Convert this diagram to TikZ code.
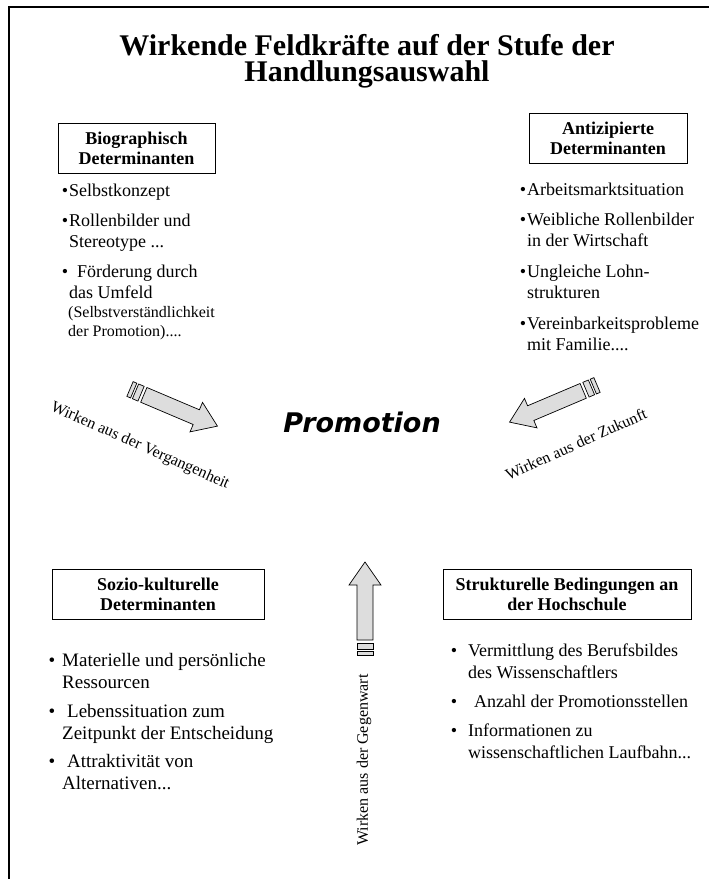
\documentclass[tikz,border=0pt]{standalone}
\usepackage{fontspec}
\setmainfont{Liberation Serif}
\newfontfamily\promofont{DejaVu Sans}
\definecolor{arrowgray}{RGB}{221,221,221}
\begin{document}
\begin{tikzpicture}[x=1pt,y=-1pt,
  titlebox/.style={draw, line width=0.8pt, align=center, inner sep=0pt,
    minimum height=50pt, font=\fontsize{18}{20}\selectfont\bfseries},
  item/.style={anchor=base west, align=left, inner sep=0pt,
    font=\fontsize{18}{21}\selectfont},
  lbl/.style={font=\fontsize{16}{18}\selectfont, inner sep=0pt},
  pics/blockarrow/.style={code={
    \draw[line width=0.7pt, fill=arrowgray] (0,-8) rectangle (4,8);
    \draw[line width=0.7pt, fill=arrowgray] (6,-8) rectangle (12,8);
    \draw[line width=0.7pt, fill=arrowgray, line join=miter] (15,-8) -- ({#1-23},-8) -- ({#1-23},-16) -- (#1,0) -- ({#1-23},16) -- ({#1-23},8) -- (15,8) -- cycle;
  }}]
\useasboundingbox (0,0) rectangle (709,879);
\draw[line width=2.5pt] (9,879) -- (9,7) -- (709,7);
\node[anchor=base, align=center, inner sep=0pt, font=\fontsize{30}{26}\selectfont\bfseries] (title) at (367,81) {Wirkende Feldkräfte auf der Stufe der\\Handlungsauswahl};
% boxes
\node[titlebox, minimum width=157pt] (bio) at (136.5,148) {Biographisch\\Determinanten};
\node[titlebox, minimum width=158pt] (ant) at (608,138) {Antizipierte\\Determinanten};
\node[titlebox, minimum width=212pt] (soz) at (158,594) {Sozio-kulturelle\\Determinanten};
\node[titlebox, minimum width=248pt] (str) at (567,594) {Strukturelle Bedingungen an\\der Hochschule};
% lists
\node[item] (bio1) at (69,196) {\llap{•\hspace{1pt}}Selbstkonzept};
\node[item] (bio2) at (69,247) {\llap{•\hspace{1pt}}Rollenbilder und\\Stereotype ...};
\node[item] (bio3) at (69,298) {\llap{•\hspace{1pt}}\hspace{8pt}Förderung durch\\das Umfeld};
\node[item, font=\fontsize{16}{19}\selectfont] (bio4) at (68,336.5) {(Selbstverständlichkeit\\der Promotion)....};
\node[item] (ant1) at (527,195) {\llap{•\hspace{1pt}}Arbeitsmarktsituation};
\node[item] (ant2) at (527,246) {\llap{•\hspace{1pt}}Weibliche Rollenbilder\\in der Wirtschaft};
\node[item] (ant3) at (527,298) {\llap{•\hspace{1pt}}Ungleiche Lohn-\\strukturen};
\node[item] (ant4) at (527,350) {\llap{•\hspace{1pt}}Vereinbarkeitsprobleme\\mit Familie....};
\node[item, font=\fontsize{19}{22}\selectfont] (soz1) at (62,688) {\llap{•\hspace{7pt}}Materielle und persönliche\\Ressourcen};
\node[item, font=\fontsize{19}{22}\selectfont] (soz2) at (62,739) {\llap{•\hspace{7pt}}\hspace{5pt}Lebenssituation zum\\Zeitpunkt der Entscheidung};
\node[item, font=\fontsize{19}{22}\selectfont] (soz3) at (62,789) {\llap{•\hspace{7pt}}\hspace{5pt}Attraktivität von\\Alternativen...};
\node[item, font=\fontsize{18}{22}\selectfont] (str1) at (468,678) {\llap{•\hspace{11pt}}Vermittlung des Berufsbildes\\des Wissenschaftlers};
\node[item, font=\fontsize{18}{22}\selectfont] (str2) at (468,707) {\llap{•\hspace{11pt}}\hspace{6pt}Anzahl der Promotionsstellen};
\node[item, font=\fontsize{18}{22}\selectfont] (str3) at (468,758) {\llap{•\hspace{11pt}}Informationen zu\\wissenschaftlichen Laufbahn...};
% centre
\node[anchor=base, inner sep=0pt, font=\promofont\bfseries\itshape\fontsize{27}{30}\selectfont] (promo) at (362,432) {Promotion};
% arrows
\pic[rotate=-23] (pastarr) at (130,389) {blockarrow=95};
\pic[rotate=203] (futarr) at (597,385) {blockarrow=95};
\pic[rotate=90] (nowarr) at (365,655) {blockarrow=93};
\node[lbl, rotate=-24] (pastlbl) at (140,446) {Wirken aus der Vergangenheit};
\node[lbl, rotate=24] (futlbl) at (576,444) {Wirken aus der Zukunft};
\node[lbl, rotate=90] (nowlbl) at (364,760) {Wirken aus der Gegenwart};
\end{tikzpicture}
\end{document}
